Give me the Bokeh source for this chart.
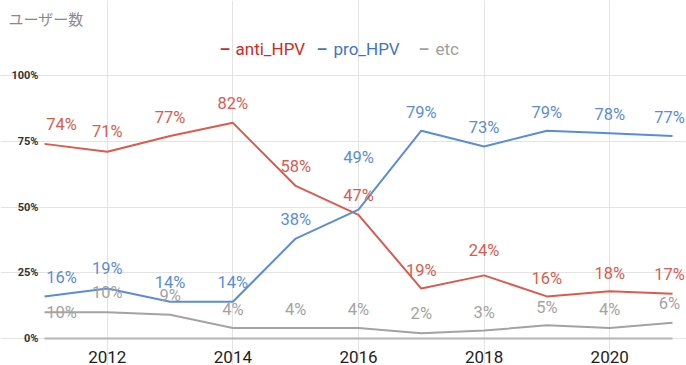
from bokeh.plotting import figure
from bokeh.models import (ColumnDataSource, LabelSet, Label, Range1d,
                          FixedTicker)
from bokeh.core.properties import value
from bokeh.embed import file_html
from bokeh.resources import INLINE

# yearly share of users by stance (%)
years = [2011, 2012, 2013, 2014, 2015, 2016, 2017, 2018, 2019, 2020, 2021]
anti_hpv = [74, 71, 77, 82, 58, 47, 19, 24, 16, 18, 17]
pro_hpv = [16, 19, 14, 14, 38, 49, 79, 73, 79, 78, 77]
etc = [10, 10, 9, 4, 4, 4, 2, 3, 5, 4, 6]

x_ticks = [2012, 2014, 2016, 2018, 2020]
x_tick_labels = ["2012", "2014", "2016", "2018", "2020"]
y_ticks = [0, 25, 50, 75, 100]
y_tick_labels = ["0%", "25%", "50%", "75%", "100%"]

RED = "#dc5a4e"
BLUE = "#5a8dd6"
GRAY = "#a3a3a3"
FONT = "Roboto"

W, H = 686, 365
PLOT_L, PLOT_R = 44, 672      # pixel span of 2011..2021
PLOT_T, PLOT_B = 75, 338      # pixel span of 100%..0%
x_scale = (PLOT_R - PLOT_L) / (years[-1] - years[0])
y_scale = (PLOT_B - PLOT_T) / 100


def px_to_x(px):
    return years[0] + (px - PLOT_L) / x_scale


def py_to_y(py):
    return (PLOT_B - py) / y_scale


# the frame spans the whole canvas so that the heading, legend, tick
# labels and edge labels are never clipped
p = figure(width=W, height=H, output_backend="svg", toolbar_location=None,
           x_range=Range1d(px_to_x(0), px_to_x(W)),
           y_range=Range1d(py_to_y(H), py_to_y(0)),
           min_border_left=0, min_border_right=0, min_border_top=0,
           min_border_bottom=0, outline_line_color=None,
           background_fill_color="white", border_fill_color="white")

p.xaxis.visible = False
p.yaxis.visible = False
p.xaxis.ticker = FixedTicker(ticks=x_ticks)
p.yaxis.ticker = FixedTicker(ticks=y_ticks)

p.xgrid.grid_line_color = "#e3e3e3"
p.xgrid.bounds = (0, 100)
p.ygrid.grid_line_color = "#e3e3e3"
p.ygrid.bounds = (years[0], years[-1])

# baseline at 0%
p.segment(x0=[years[0]], y0=[y_ticks[0]], x1=[years[-1]], y1=[y_ticks[0]],
          line_color="#b5b5b5", line_width=2)

# percent tick labels on the left
p.add_layout(LabelSet(x="x", y="y", text="text",
                      source=ColumnDataSource(dict(
                          x=[years[0]] * len(y_ticks), y=y_ticks,
                          text=y_tick_labels)),
                      x_offset=-6, text_align="right", text_baseline="middle",
                      text_font=value(FONT), text_font_size="11px",
                      text_font_style="bold", text_color="#333333"))

# year tick labels below the baseline
p.add_layout(LabelSet(x="x", y="y", text="text",
                      source=ColumnDataSource(dict(
                          x=x_ticks, y=[y_ticks[0]] * len(x_ticks),
                          text=x_tick_labels)),
                      y_offset=-18, text_align="center",
                      text_baseline="middle",
                      text_font=value(FONT), text_font_size="17px",
                      text_color="#1e1e1e"))

# series lines
series = [(anti_hpv, RED), (pro_hpv, BLUE), (etc, GRAY)]
for vals, color in series:
    p.line(years, vals, line_color=color, line_width=2)

# value labels: lift above each point (pixels), a few shifted for legibility
lift = {
    "anti": [19, 20, 18, 19, 19, 19, 18, 25, 18, 18, 19],
    "pro": [19, 20, 19, 19, 19, 52, 18, 19, 18, 19, 18],
    "etc": [0, 20, 19, 18, 18, 18, 20, 18, 18, 18, 19],
}
shift = [17, 0, 0, 0, 0, 0, 0, 0, 0, 0, -3]

for key, vals, color in [("etc", etc, GRAY), ("pro", pro_hpv, BLUE),
                         ("anti", anti_hpv, RED)]:
    src = ColumnDataSource(dict(x=years, y=vals,
                                text=[f"{v}%" for v in vals],
                                dy=lift[key], dx=shift))
    p.add_layout(LabelSet(x="x", y="y", text="text", source=src,
                          x_offset="dx", y_offset="dy",
                          text_align="center", text_baseline="middle",
                          text_font=value(FONT), text_font_size="16.5px",
                          text_color=color))

# chart heading
p.add_layout(Label(x=px_to_x(8), y=py_to_y(18), text="ユーザー数",
                   text_font="Noto Sans CJK JP", text_font_size="15px",
                   text_color="#8a8a8a", text_baseline="middle"))

# legend row
legend = [("anti_HPV", "#d02a22", 219, 235),
          ("pro_HPV", "#3f74c9", 316, 333),
          ("etc", "#a0a0a0", 418, 435)]
for name, color, dash_px, text_px in legend:
    p.add_layout(Label(x=px_to_x(dash_px), y=py_to_y(48), text="–",
                       text_font=FONT, text_font_size="17px",
                       text_font_style="bold", text_color=color,
                       text_baseline="middle"))
    p.add_layout(Label(x=px_to_x(text_px), y=py_to_y(48), text=name,
                       text_font=FONT, text_font_size="17px",
                       text_color=color, text_baseline="middle"))

open("out.html", "w").write(file_html(p, INLINE))
